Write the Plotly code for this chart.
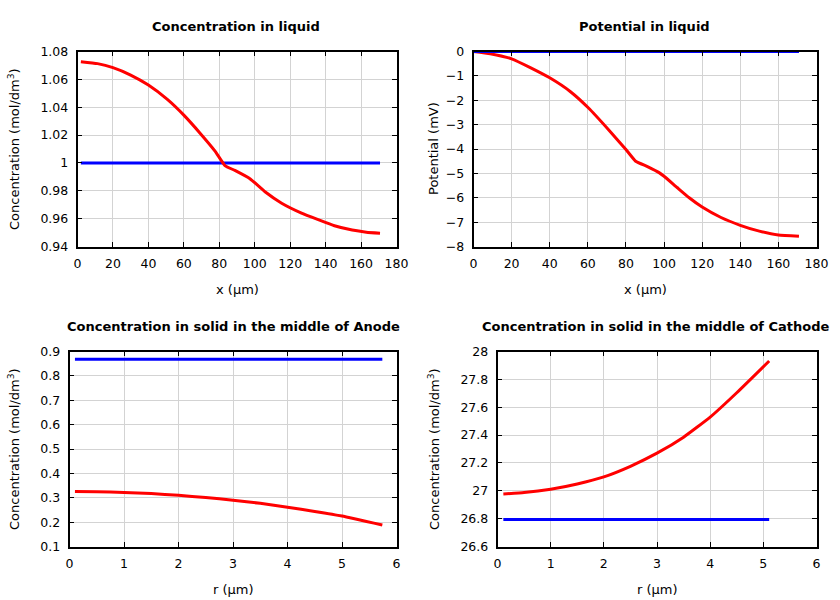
import plotly.graph_objects as go

# ---- data ----
liq_x = [1.9, 11.3, 20, 30, 40, 50.7, 60, 69.4, 77.6, 83.2, 88.8, 97.3, 105.8, 115.2, 126.4, 135.8, 145, 155, 163, 170.7]
liq_c_red = [1.0727, 1.0713, 1.0684, 1.0631, 1.0559, 1.0456, 1.0343, 1.0210, 1.0085, 0.9981, 0.9946, 0.9887,
             0.9793, 0.9711, 0.9640, 0.9593, 0.9549, 0.9518, 0.9503, 0.9496]
liq_c_blue_x = [1.9, 170.7]
liq_c_blue = [1.0, 1.0]

pot_x = [0, 8.8, 20, 29.8, 40, 50.9, 60.5, 71, 80, 85.1, 91.3, 97.4, 100, 107, 113.2, 120, 129.9, 140, 150, 160, 170.8]
pot_red = [0, -0.09, -0.30, -0.66, -1.08, -1.65, -2.33, -3.22, -4.02, -4.50, -4.72, -4.97, -5.12, -5.59, -6.0,
           -6.38, -6.81, -7.13, -7.37, -7.53, -7.58]
pot_blue_x = [0, 170.8]
pot_blue = [0, 0]

an_r = [0.1, 0.5, 1, 1.5, 2, 2.5, 3, 3.5, 4, 4.5, 5, 5.74]
an_red = [0.326, 0.325, 0.322, 0.317, 0.310, 0.301, 0.290, 0.277, 0.261, 0.244, 0.225, 0.188]
an_blue_r = [0.1, 5.74]
an_blue = [0.868, 0.868]

ca_r = [0.11, 0.5, 1.0, 1.5, 2.0, 2.5, 3.0, 3.5, 4.0, 4.5, 5.11]
ca_red = [26.977, 26.987, 27.011, 27.049, 27.100, 27.176, 27.270, 27.385, 27.529, 27.704, 27.932]
ca_blue_r = [0.11, 5.11]
ca_blue = [26.793, 26.793]

W, H = 840, 600
FONT = "DejaVu Sans"
RED = "#ff0000"
BLUE = "#0000ff"

fig = go.Figure()

panels = [
    dict(series=[(liq_c_blue_x, liq_c_blue, BLUE), (liq_x, liq_c_red, RED)],
         box=(77.5, 396.5, 51.5, 246.5), xr=[0, 180], xd=20, yr=[0.94, 1.08], yd=0.02,
         title="Concentration in liquid", xt="x (μm)", yt="Concentration (mol/dm<sup>3</sup>)", tcx=236, ytx=14),
    dict(series=[(pot_x, pot_red, RED), (pot_blue_x, pot_blue, BLUE)],
         box=(473.5, 816.5, 51.5, 246.5), xr=[0, 180], xd=20, yr=[-8, 0], yd=1,
         title="Potential in liquid", xt="x (μm)", yt="Potential (mV)", tcx=644, ytx=434),
    dict(series=[(an_blue_r, an_blue, BLUE), (an_r, an_red, RED)],
         box=(69.5, 396.5, 351.5, 546.5), xr=[0, 6], xd=1, yr=[0.1, 0.9], yd=0.1,
         title="Concentration in solid in the middle of Anode", xt="r (μm)", yt="Concentration (mol/dm<sup>3</sup>)", tcx=233, ytx=14),
    dict(series=[(ca_blue_r, ca_blue, BLUE), (ca_r, ca_red, RED)],
         box=(497.5, 816.5, 351.5, 546.5), xr=[0, 6], xd=1, yr=[26.6, 28], yd=0.2,
         title="Concentration in solid in the middle of Cathode", xt="r (μm)", yt="Concentration (mol/dm<sup>3</sup>)", tcx=656, ytx=434),
]

annotations = []
for i, p in enumerate(panels, start=1):
    xa = "x" if i == 1 else f"x{i}"
    ya = "y" if i == 1 else f"y{i}"
    for xs, ys, col in p["series"]:
        fig.add_trace(go.Scatter(x=xs, y=ys, mode="lines", line=dict(color=col, width=3, shape="spline", smoothing=0.4),
                                 xaxis=xa, yaxis=ya, showlegend=False, hoverinfo="skip", cliponaxis=False))
    l, r, t, b = p["box"]
    axcommon = dict(showline=True, linecolor="black", linewidth=1.5, mirror="ticks", ticks="inside",
                    ticklen=5, tickcolor="black", tickwidth=1, showgrid=True, gridcolor="#d3d3d3", gridwidth=1,
                    zeroline=False, automargin=False, tickfont=dict(family=FONT, size=12.5, color="black"))
    fig.layout[f"xaxis{'' if i == 1 else i}"] = dict(
        domain=[l / W, r / W], range=p["xr"], dtick=p["xd"], tick0=0, anchor=ya, ticklabelstandoff=5, **axcommon)
    fig.layout[f"yaxis{'' if i == 1 else i}"] = dict(
        domain=[1 - b / H, 1 - t / H], range=p["yr"], dtick=p["yd"], tick0=p["yr"][0], anchor=xa,
        ticklabelstandoff=5, **axcommon)
    annotations.append(dict(text=f"<b>{p['title']}</b>", x=p["tcx"] / W, y=1 - (t - 25) / H, xref="paper", yref="paper",
                            showarrow=False, xanchor="center", yanchor="middle", font=dict(family=FONT, size=13, color="black")))
    annotations.append(dict(text=p["xt"], x=(l + r) / 2 / W, y=1 - (b + 43) / H, xref="paper", yref="paper",
                            showarrow=False, xanchor="center", yanchor="middle", font=dict(family=FONT, size=13, color="black")))
    annotations.append(dict(text=p["yt"], x=p["ytx"] / W, y=1 - (t + b) / 2 / H, xref="paper", yref="paper", textangle=-90,
                            showarrow=False, xanchor="center", yanchor="middle", font=dict(family=FONT, size=13, color="black")))

fig.update_layout(width=W, height=H, margin=dict(l=0, r=0, t=0, b=0, autoexpand=False), plot_bgcolor="white",
                  paper_bgcolor="white", annotations=annotations, font=dict(family=FONT, size=13, color="black"))

fig.write_html("out.html", config={"displayModeBar": False}, post_script="document.body.style.margin='0';")
